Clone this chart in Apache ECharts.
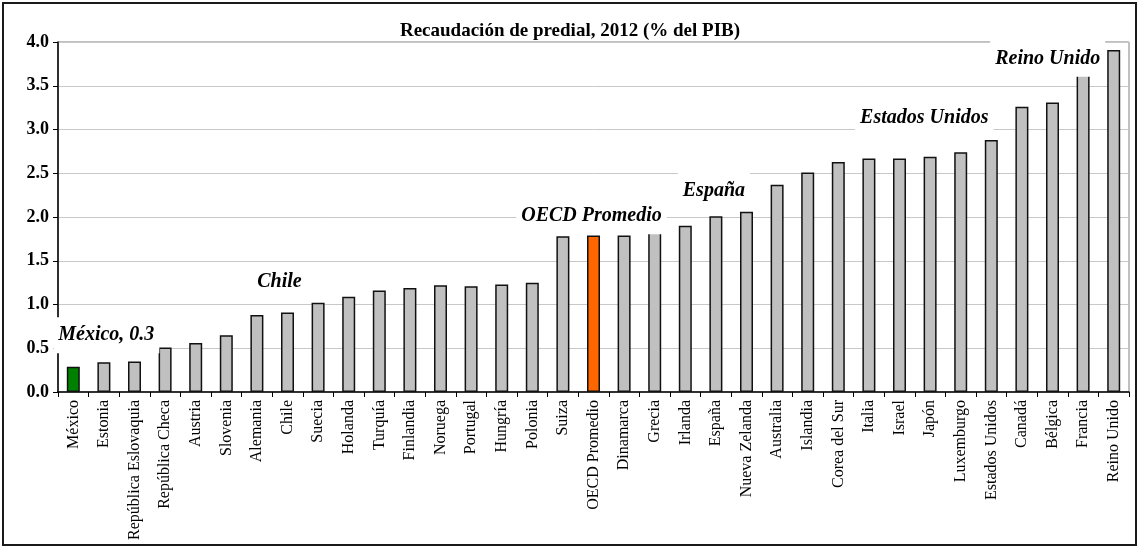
<!DOCTYPE html>
<html>
<head>
<meta charset="utf-8">
<script src="https://cdn.jsdelivr.net/npm/echarts@6/dist/echarts.min.js"></script>
<style>
    body { margin: 0; background: #fff; }
    #chart { width: 1140px; height: 548px; }
</style>
</head>
<body>
<div id="chart"></div>
<script>
// categorias y valores (% del PIB)
var paises = ['México', 'Estonia', 'República Eslovaquia', 'República Checa', 'Austria', 'Slovenia',
    'Alemania', 'Chile', 'Suecia', 'Holanda', 'Turquía', 'Finlandia', 'Noruega', 'Portugal', 'Hungría',
    'Polonia', 'Suiza', 'OECD Promedio', 'Dinamarca', 'Grecia', 'Irlanda', 'España', 'Nueva Zelanda',
    'Australia', 'Islandia', 'Corea del Sur', 'Italia', 'Israel', 'Japón', 'Luxemburgo', 'Estados Unidos',
    'Canadá', 'Bélgica', 'Francia', 'Reino Unido'];
var predial = [0.29, 0.34, 0.35, 0.51, 0.56, 0.65, 0.88, 0.91, 1.02, 1.09, 1.16, 1.19, 1.22, 1.21, 1.23,
    1.25, 1.78, 1.79, 1.79, 1.85, 1.90, 2.01, 2.06, 2.37, 2.51, 2.63, 2.67, 2.67, 2.69, 2.74, 2.88,
    3.26, 3.31, 3.65, 3.91];
var yTicks = [0, 0.5, 1.0, 1.5, 2.0, 2.5, 3.0, 3.5, 4.0];

// etiquetas resaltadas
var notaTexto = ['México, 0.3', 'Chile', 'OECD Promedio', 'España', 'Estados Unidos', 'Reino Unido'];
var notaPais = ['México', 'Chile', 'OECD Promedio', 'España', 'Estados Unidos', 'Reino Unido'];
var notaAltura = [0.65, 1.26, 2.01, 2.30, 3.13, 3.81];

var colorPais = { 'México': '#008000', 'OECD Promedio': '#ff6600' };
var notaOffset = { 'México': [33, 0], 'Chile': [-8, 0], 'OECD Promedio': [-2, 0], 'España': [-2, 0],
    'Estados Unidos': [-67, 0], 'Reino Unido': [-66, 0] };

var chart = echarts.init(document.getElementById('chart'));

var barData = paises.map(function (p, i) {
    return {
        value: predial[i],
        itemStyle: { color: colorPais[p] || '#c0c0c0' }
    };
});

var marks = notaTexto.map(function (t, i) {
    return {
        coord: [notaPais[i], notaAltura[i]],
        symbol: 'rect',
        symbolSize: 0,
        label: {
            show: true,
            formatter: t,
            offset: notaOffset[notaPais[i]]
        }
    };
});

var option = {
    backgroundColor: '#fff',
    animation: false,
    title: {
        text: 'Recaudación de predial, 2012 (% del PIB)',
        left: 'center',
        top: 17,
        textStyle: { fontFamily: 'Liberation Serif', fontSize: 19, fontWeight: 'bold', color: '#000' }
    },
    graphic: [{
        type: 'rect',
        shape: { x: 3, y: 3, width: 1133, height: 542 },
        style: { fill: 'none', stroke: '#1a1a1a', lineWidth: 2 },
        z: 100
    }],
    grid: {
        left: 58,
        right: 11,
        top: 42,
        bottom: 156,
        show: true,
        borderColor: '#808080',
        borderWidth: 1
    },
    xAxis: {
        type: 'category',
        data: paises,
        axisLine: { lineStyle: { color: '#000', width: 1.5 } },
        axisTick: { show: true, length: 5, lineStyle: { color: '#000' } },
        axisLabel: {
            interval: 0,
            rotate: 90,
            margin: 8,
            fontFamily: 'Liberation Serif',
            fontSize: 16,
            color: '#000'
        }
    },
    yAxis: {
        type: 'value',
        min: 0,
        max: 4,
        interval: 0.5,
        axisLine: { show: true, lineStyle: { color: '#000', width: 1.5 } },
        axisTick: { show: true, length: 5, lineStyle: { color: '#000' } },
        axisLabel: {
            margin: 9,
            fontFamily: 'Liberation Serif',
            fontSize: 18,
            fontWeight: 'bold',
            color: '#000',
            formatter: function (v) { return v.toFixed(1); }
        },
        splitLine: { lineStyle: { color: '#c8c8c8', width: 1 } }
    },
    series: [{
        type: 'bar',
        data: barData,
        barWidth: 13,
        itemStyle: { borderColor: '#111', borderWidth: 1.5 },
        markPoint: {
            silent: true,
            data: marks,
            label: {
                fontFamily: 'Liberation Serif',
                fontSize: 20,
                fontWeight: 'bold',
                fontStyle: 'italic',
                color: '#000',
                backgroundColor: '#fff',
                padding: [8, 5]
            }
        }
    }]
};

chart.setOption(option);
</script>
</body>
</html>
